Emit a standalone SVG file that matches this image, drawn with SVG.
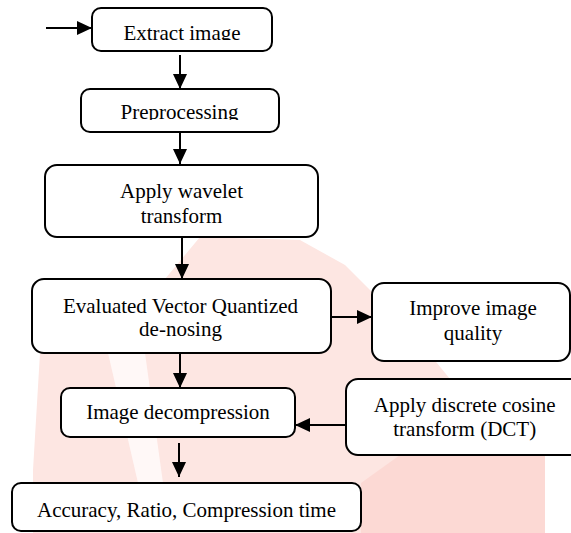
<svg xmlns="http://www.w3.org/2000/svg" width="571" height="533" viewBox="0 0 571 533">
<style>
.box{fill:#fff;stroke:#000;stroke-width:2}
.t{font-family:"Liberation Serif","Times New Roman",serif;font-size:21px;fill:#000;text-anchor:middle}
.c{stroke:#000;stroke-width:2;fill:none;marker-end:url(#ah)}
</style>
<defs>
<marker id="ah" markerUnits="userSpaceOnUse" markerWidth="16" markerHeight="15" refX="15" refY="7" orient="auto">
<path d="M0,0 L15,7 L0,14 z" fill="#000"/>
</marker>
<clipPath id="cl1"><rect x="92" y="8" width="180" height="32"/></clipPath>
<clipPath id="cl2"><rect x="81" y="89" width="198" height="31"/></clipPath>
</defs>
<rect width="571" height="533" fill="#fff"/>
<g id="watermark">
<path d="M200,237 L300,240 L345,265 L410,330 L450,379 L545,455 L545,533 L33,533 L33,470 L40,353 L165,279 Z" fill="#fde6e2"/>
<path d="M108,353 L145,353 L163,483 L138,483 Z" fill="#fff8f7"/>
<path d="M400,455 L545,455 L545,533 L361,533 L361,483 Z" fill="#fcd9d4"/>
</g>
<g id="connectors">
<line class="c" x1="46" y1="28" x2="92" y2="28"/>
<line class="c" x1="180" y1="55" x2="180" y2="89"/>
<line class="c" x1="180" y1="132" x2="180" y2="164"/>
<line class="c" x1="182" y1="237" x2="182" y2="279"/>
<line class="c" x1="331" y1="317" x2="372" y2="317"/>
<line class="c" x1="180" y1="353" x2="180" y2="388"/>
<line class="c" x1="346" y1="425" x2="295" y2="425"/>
<line class="c" x1="179" y1="443" x2="179" y2="477"/>
</g>
<g id="n1"><rect class="box" x="92" y="8" width="180" height="43" rx="9"/><text class="t" x="182" y="39.5" clip-path="url(#cl1)">Extract image</text></g>
<g id="n2"><rect class="box" x="81" y="89" width="198" height="43" rx="9"/><text class="t" x="179.5" y="119" clip-path="url(#cl2)">Preprocessing</text></g>
<g id="n3"><rect class="box" x="45" y="165" width="273" height="72" rx="12"/><text class="t" x="181.5" y="198">Apply wavelet</text><text class="t" x="181.5" y="222.5">transform</text></g>
<g id="n4"><rect class="box" x="32" y="279" width="299" height="74" rx="12"/><text class="t" x="180.5" y="313">Evaluated Vector Quantized</text><text class="t" x="180.5" y="336">de-nosing</text></g>
<g id="n5"><rect class="box" x="372" y="283" width="198" height="78" rx="12"/><text class="t" x="473" y="315">Improve image</text><text class="t" x="473" y="340">quality</text></g>
<g id="n6"><rect class="box" x="346" y="379" width="240" height="76" rx="12"/><text class="t" x="464.7" y="411.5">Apply discrete cosine</text><text class="t" x="464.7" y="436">transform (DCT)</text></g>
<g id="n7"><rect class="box" x="61" y="388" width="234" height="49" rx="9"/><text class="t" x="178" y="418.5">Image decompression</text></g>
<g id="n8"><rect class="box" x="12" y="483" width="349" height="48" rx="9"/><text class="t" x="186.5" y="516.5">Accuracy, Ratio, Compression time</text></g>
</svg>
